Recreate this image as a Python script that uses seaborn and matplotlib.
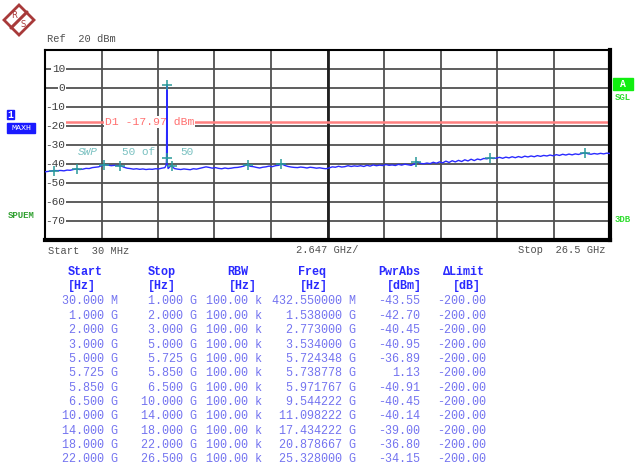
import numpy as np
import pandas as pd
import matplotlib
matplotlib.use("Agg")
import matplotlib.pyplot as plt
import seaborn as sns
from matplotlib.patches import Polygon, Rectangle
from matplotlib.transforms import blended_transform_factory

# %% data
# max-hold trace, evenly spaced sweep points from 30 MHz to 26.5 GHz (dBm)
trace_dbm = [
    -44.2, -44.0, -43.8, -43.55, -43.6, -43.5, -43.7, -43.3, -43.4, -43.0,
    -42.7, -43.0, -42.8, -42.4, -42.5, -42.0, -41.8, -41.6, -40.9, -40.45,
    -40.7, -41.0, -40.8, -40.95, -41.0, -41.8, -42.3, -42.5, -42.8, -42.6,
    -42.9, -42.7, -43.0, -42.8, -42.9, -42.6, -42.7, -42.3, -42.0, -42.5,
    -40.91, -42.5, -42.8, -43.0, -42.7, -42.9, -43.1, -42.6, -42.8, -42.4,
    -42.0, -41.6, -41.9, -42.3, -42.0, -42.4, -42.6, -42.2, -42.5, -42.3,
    -42.0, -41.9, -41.6, -41.2, -40.45, -41.3, -41.5, -41.9, -42.2, -41.8,
    -41.6, -41.2, -41.5, -41.0, -40.8, -40.14, -40.9, -41.4, -41.7, -41.9,
    -42.0, -41.7, -41.9, -42.2, -41.8, -42.0, -42.3, -42.1, -42.4, -42.6,
    -42.2, -41.6, -41.8, -41.3, -41.7, -41.5, -41.0, -41.4, -41.1, -41.3,
    -41.0, -41.4, -40.8, -41.2, -40.6, -41.0, -40.7, -40.9, -40.4, -40.8,
    -40.6, -40.9, -40.3, -40.7, -40.2, -40.5, -40.8, -40.1, -39.0, -39.8,
    -40.0, -39.6, -39.9, -39.2, -39.7, -39.0, -39.5, -38.6, -39.3, -38.4,
    -39.0, -38.2, -38.8, -37.9, -38.5, -37.6, -38.3, -37.5, -37.9, -37.2,
    -37.4, -36.8, -37.2, -37.0, -36.6, -37.1, -36.5, -36.9, -36.3, -36.8,
    -36.2, -36.7, -36.0, -36.4, -35.9, -36.3, -35.7, -36.1, -35.6, -35.9,
    -35.4, -35.8, -35.2, -35.6, -35.0, -35.4, -34.9, -35.3, -34.8, -35.1,
    -34.6, -34.15, -34.7, -35.0, -34.6, -34.9, -34.5, -34.8, -34.4, -34.6,
]
# the narrow carrier spike
spike_freq = [5.712, 5.724348, 5.738778, 5.752]
spike_dbm = [-40.5, -36.89, 1.13, -39.5]

# spurious emission table (GHz / dBm)
range_start = [0.03, 1.0, 2.0, 3.0, 5.0, 5.725, 5.85, 6.5, 10.0, 14.0, 18.0, 22.0]
range_stop = [1.0, 2.0, 3.0, 5.0, 5.725, 5.85, 6.5, 10.0, 14.0, 18.0, 22.0, 26.5]
rbw_khz = [100.0] * 12
peak_freq = [0.43255, 1.538, 2.773, 3.534, 5.724348, 5.738778, 5.971767,
             9.544222, 11.098222, 17.434222, 20.878667, 25.328]
peak_pwr = [-43.55, -42.70, -40.45, -40.95, -36.89, 1.13, -40.91,
            -40.45, -40.14, -39.00, -36.80, -34.15]
delta_limit = [-200.0] * 12

d1_level = -17.97
f_start, f_stop = 0.03, 26.5
ref_level = 20

# %% build frames
trace = pd.DataFrame({"freq": np.linspace(f_start, f_stop, len(trace_dbm)),
                      "dbm": trace_dbm})
trace = pd.concat([trace, pd.DataFrame({"freq": spike_freq, "dbm": spike_dbm})])
trace = trace.sort_values("freq").reset_index(drop=True)
peaks = pd.DataFrame({"freq": peak_freq, "dbm": peak_pwr})

sns.set_style("white")
plt.rcParams["font.family"] = ["Liberation Mono", "DejaVu Sans Mono"]

W, H = 635, 472
fig = plt.figure(figsize=(W / 100, H / 100), dpi=100)


def px(x, y):
    return x / W, 1 - y / H


# %% spectrum plot
ax = fig.add_axes([45 / W, 1 - 240 / H, 565 / W, (240 - 49.5) / H])
ax.set_xlim(f_start, f_stop)
ax.set_ylim(ref_level - 100, ref_level)
ax.set_xticks(np.linspace(f_start, f_stop, 11))
ax.set_yticks(range(ref_level - 100, ref_level + 1, 10))
ax.set_xticklabels([])
ax.set_yticklabels([])
ax.tick_params(length=0)
ax.grid(True, color="#505050", lw=1.3, zorder=1)
ax.axvline((f_start + f_stop) / 2, color="#202020", lw=2, zorder=1)
for side in ["top", "left"]:
    ax.spines[side].set_linewidth(1.5)
for side in ["right", "bottom"]:
    ax.spines[side].set_linewidth(3)
for s in ax.spines.values():
    s.set_color("black")

tr = blended_transform_factory(ax.transAxes, ax.transData)

# D1 limit line, broken by its label
ax.axhline(d1_level, color="#ff8080", lw=1.8, zorder=2)
ax.text(0.106, d1_level, f"D1 {d1_level:.2f} dBm", transform=tr, color="#ff7070",
        fontsize=8.2, va="center", ha="left", zorder=2.5,
        bbox=dict(facecolor="white", edgecolor="none", pad=0.6))

sns.lineplot(data=trace, x="freq", y="dbm", ax=ax, color="#2a2aff", lw=1,
             zorder=3, legend=False)
sns.scatterplot(data=peaks, x="freq", y="dbm", ax=ax, marker="+", s=55,
                color="#2a9a9a", linewidth=1.1, zorder=4, legend=False)
ax.set_xlabel("")
ax.set_ylabel("")

# y labels drawn inside the grid
for v in range(10, -71, -10):
    ax.text(0.0354, v, f"{v}", transform=tr, ha="right", va="center",
            fontsize=8, color="#404040", zorder=2.5,
            bbox=dict(facecolor="white", edgecolor="none", pad=0.5))

ax.text(0.058, -33.8, "SWP", transform=tr, fontsize=8, color="#78c0c0",
        style="italic", va="center")
ax.text(0.137, -33.8, "50 of", transform=tr, fontsize=8, color="#78c0c0", va="center")
ax.text(0.239, -33.8, "50", transform=tr, fontsize=8, color="#78c0c0", va="center")

# %% annotations around the plot
fig.text(*px(47, 39), "Ref  20 dBm", fontsize=7.5, color="#505050", va="center")
fig.text(*px(48, 251), "Start  30 MHz", fontsize=7.5, color="#505050", va="center")
fig.text(*px(327, 250), f"{(f_stop - f_start) / 10:.3f} GHz/", fontsize=7.5,
         color="#505050", va="center", ha="center")
fig.text(*px(606, 250), "Stop  26.5 GHz", fontsize=7.5, color="#505050",
         va="center", ha="right")

over = fig.add_axes([0, 0, 1, 1])
over.set_xlim(0, W)
over.set_ylim(H, 0)
over.axis("off")

# R&S logo
over.add_patch(Polygon([[4, 20], [19, 5], [34, 20], [19, 35]], closed=True,
                       facecolor="white", edgecolor="#a83a3a", lw=2))
over.plot([11, 27], [28, 12], color="#a83a3a", lw=2.2)
over.text(14, 15, "R", fontsize=6, color="#a83a3a", ha="center", va="center",
          family="DejaVu Sans")
over.text(23.5, 24.5, "S", fontsize=6, color="#a83a3a", ha="center", va="center",
          family="DejaVu Sans")

# left status boxes
over.add_patch(Rectangle((7, 110), 7, 9, color="#1a1aff"))
over.text(10.5, 114.5, "1", fontsize=7, color="white", ha="center", va="center",
          weight="bold")
over.add_patch(Rectangle((7, 123), 28, 10, color="#1a1aff"))
over.text(21, 128, "MAXH", fontsize=6, color="white", ha="center", va="center")
over.text(8, 216, "SPUEM", fontsize=6.5, color="#30a030", va="center", weight="bold")

# right status boxes
over.add_patch(Rectangle((613, 78), 20, 12, color="#10ee10"))
over.text(623, 84, "A", fontsize=7, color="white", ha="center", va="center",
          weight="bold")
over.text(623, 98, "SGL", fontsize=6.5, color="#30dd30", ha="center", va="center",
          weight="bold")
over.text(623, 219, "3DB", fontsize=6.5, color="#30dd30", ha="center", va="center",
          weight="bold")

# %% result table
head_col = "#2a2aff"
val_col = "#7474f0"
headers = ["Start", "Stop", "RBW", "Freq", "PwrAbs", "\u0394Limit"]
units = ["[Hz]", "[Hz]", "[Hz]", "[Hz]", "[dBm]", "[dB]"]
head_x = [68, 148, 227, 298, 378, 443]
unit_x = [68, 148, 229, 300, 387, 453]
for h, hx, u, ux in zip(headers, head_x, units, unit_x):
    over.text(hx, 272, h, fontsize=8.5, color=head_col, weight="bold", va="center",
              family=["Liberation Mono", "DejaVu Sans"])
    over.text(ux, 286, u, fontsize=8.5, color=head_col, weight="bold", va="center")


def fmt_hz(v):
    return f"{v * 1000:.3f} M" if v < 1 else f"{v:.3f} G"


def fmt_freq(v):
    return f"{v * 1000:.6f} M" if v < 1 else f"{v:.6f} G"


right_x = [118, 197, 262, 356, 420, 486]
row_y = 301.5
for i in range(len(range_start)):
    cells = [fmt_hz(range_start[i]), fmt_hz(range_stop[i]), f"{rbw_khz[i]:.2f} k",
             fmt_freq(peak_freq[i]), f"{peak_pwr[i]:.2f}", f"{delta_limit[i]:.2f}"]
    for c, rx in zip(cells, right_x):
        over.text(rx, row_y + i * 14.35, c, fontsize=8.5, color=val_col,
                  ha="right", va="center")

fig.savefig("out.png", dpi=100)
